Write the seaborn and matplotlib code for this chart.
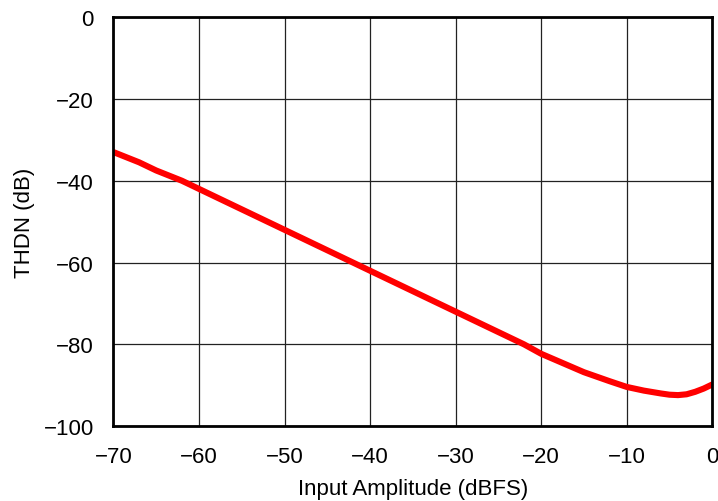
import matplotlib
matplotlib.use("Agg")
import matplotlib.pyplot as plt
import seaborn as sns
import pandas as pd

# THD+N vs input amplitude
amplitude = [-70, -67, -65, -62, -60, -57, -55, -52, -50, -47, -45, -42, -40,
             -37, -35, -32, -30, -27, -25, -22, -20, -17, -15, -12, -10,
             -8, -6, -5, -4, -3, -2, -1, 0]
thdn = [-33.0, -35.5, -37.5, -40.0, -42.0, -45.0, -47.0, -50.0, -52.0, -55.0,
        -57.0, -60.0, -62.0, -65.0, -67.0, -70.0, -72.0, -75.0, -77.0, -80.0,
        -82.3, -85.0, -86.8, -89.0, -90.4, -91.3, -92.0, -92.3, -92.4, -92.2,
        -91.6, -90.8, -89.8]

df = pd.DataFrame({"amp": amplitude, "thdn": thdn})

sns.set_style("white")
plt.rcParams["font.family"] = ["Liberation Sans", "DejaVu Sans"]
plt.rcParams["text.color"] = "black"
plt.rcParams["axes.labelcolor"] = "black"
plt.rcParams["xtick.color"] = "black"
plt.rcParams["ytick.color"] = "black"

fig, ax = plt.subplots(figsize=(7.18, 5.02), dpi=100)
sns.lineplot(data=df, x="amp", y="thdn", color="#ff0000", linewidth=4.4, ax=ax)

ax.set_xlim(-70, 0)
ax.set_ylim(-100, 0)
ax.set_xticks(range(-70, 1, 10))
ax.set_yticks(range(-100, 1, 20))
ax.grid(True, color="#222222", linewidth=0.9)
ax.set_axisbelow(True)
for s in ax.spines.values():
    s.set_linewidth(2)
    s.set_color("black")
ax.tick_params(labelsize=16, length=0)
ax.tick_params(axis="y", pad=14)
ax.tick_params(axis="x", pad=14)
ax.set_xlabel("Input Amplitude (dBFS)", fontsize=16, labelpad=8)
ax.set_ylabel("THDN (dB)", fontsize=16, labelpad=6)

fig.subplots_adjust(left=0.158, right=0.992, top=0.964, bottom=0.149)
fig.savefig("out.png", dpi=100)
